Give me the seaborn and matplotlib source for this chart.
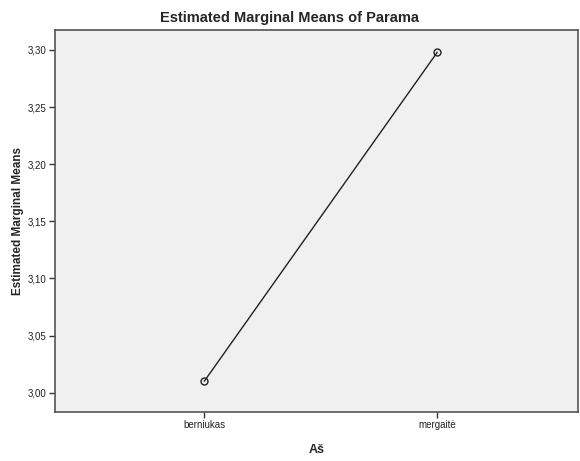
import matplotlib
matplotlib.use("Agg")
import matplotlib.pyplot as plt
import seaborn as sns
from matplotlib.ticker import FuncFormatter, FixedLocator

categories = ["berniukas", "mergaitė"]
means = [3.010, 3.298]
y_ticks = [3.00, 3.05, 3.10, 3.15, 3.20, 3.25, 3.30]

sns.set_style("white")
plt.rcParams["font.family"] = ["Liberation Sans", "DejaVu Sans"]

fig = plt.figure(figsize=(5.8, 4.61), dpi=100)
ax = fig.add_axes([0.095, 0.106, 0.902, 0.829])
ax.set_facecolor("#f0f0f0")

sns.lineplot(
    x=categories,
    y=means,
    ax=ax,
    color="#222222",
    linewidth=1,
    marker="o",
    markersize=5,
    markerfacecolor="none",
    markeredgecolor="#222222",
    markeredgewidth=1,
)

ax.set_xlim(-0.64, 1.605)
ax.set_ylim(2.983, 3.3175)
ax.yaxis.set_major_locator(FixedLocator(y_ticks))
ax.yaxis.set_major_formatter(FuncFormatter(lambda v, p: f"{v:.2f}".replace(".", ",")))

ax.tick_params(axis="both", which="major", length=4, width=1, color="#333333",
               labelsize=7, labelcolor="#222222", left=True, bottom=True, pad=2)

for s in ax.spines.values():
    s.set_color("#555555")
    s.set_linewidth(1.2)

fig.text(0.5, 0.962, "Estimated Marginal Means of Parama", ha="center", va="center",
         fontsize=10.5, fontweight="bold")
ax.set_xlabel("Aš", fontsize=9, fontweight="bold", labelpad=10)
ax.set_ylabel("Estimated Marginal Means", fontsize=8.5, fontweight="bold", labelpad=3)

fig.savefig("out.png", dpi=100)
